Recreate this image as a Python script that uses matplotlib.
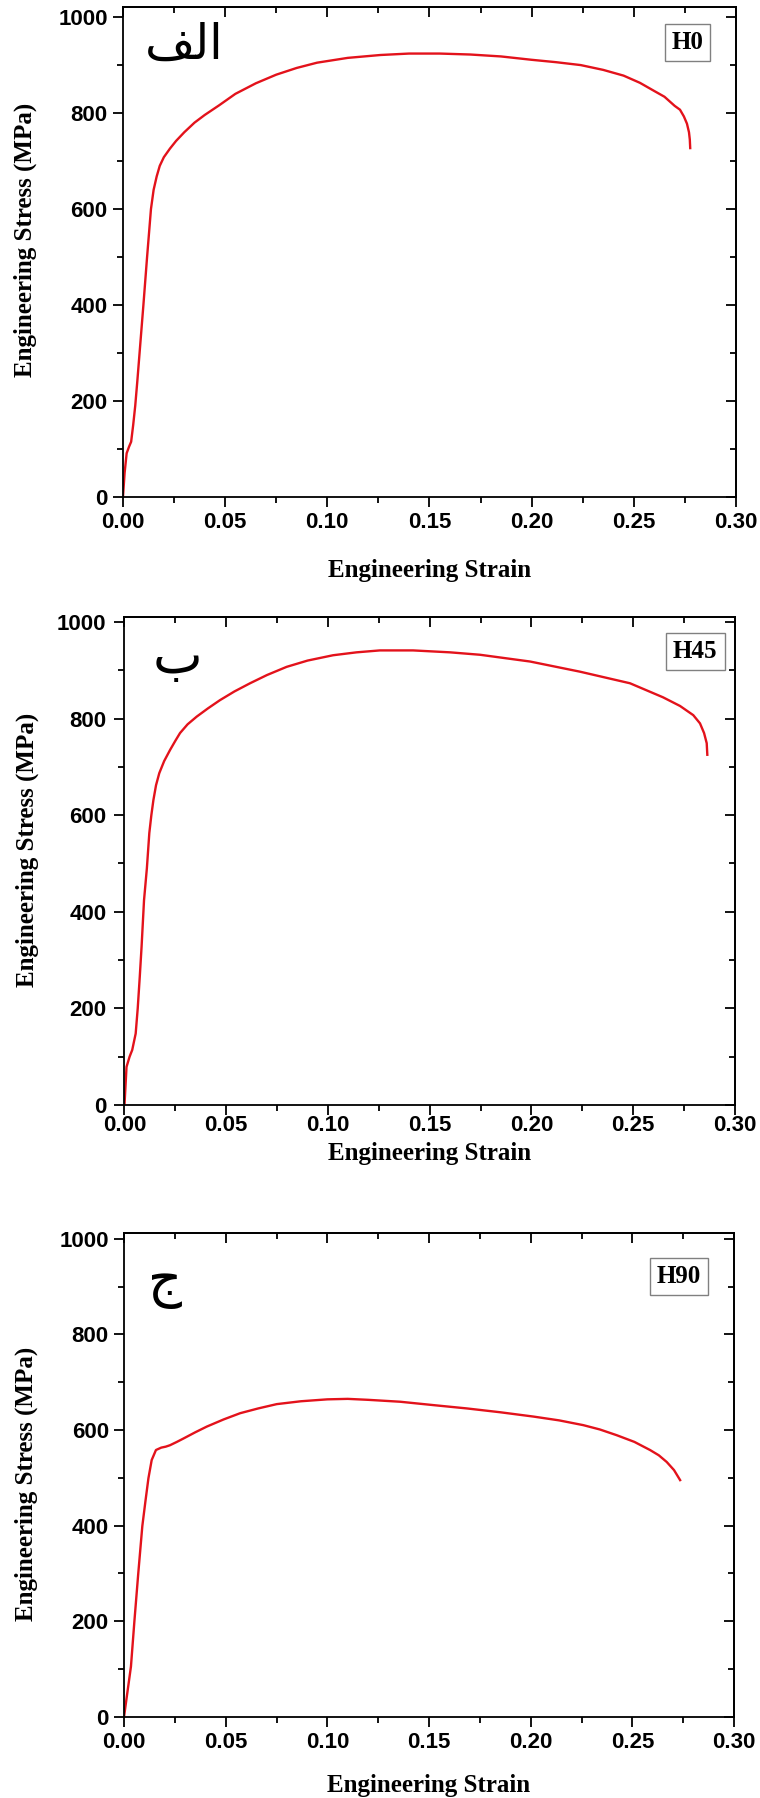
import numpy as np
import matplotlib.pyplot as plt
from matplotlib.ticker import MultipleLocator, FormatStrFormatter, NullFormatter

plt.rcParams['font.family'] = 'Liberation Sans'
plt.rcParams['font.weight'] = 'bold'

# values
h0_strain = [0, 0.0008, 0.0018, 0.0030, 0.0040, 0.0050, 0.0060, 0.0070, 0.0085, 0.0100,
             0.0118, 0.0137, 0.0150, 0.0165, 0.0180, 0.0200, 0.0230, 0.0260, 0.0300, 0.0350,
             0.0400, 0.0470, 0.0550, 0.0650, 0.0750, 0.0850, 0.0950, 0.1100, 0.1260, 0.1400,
             0.1550, 0.1700, 0.1850, 0.2000, 0.2120, 0.2240, 0.2350, 0.2450, 0.2530, 0.2600,
             0.2650, 0.2700, 0.2726, 0.2745, 0.2760, 0.2770, 0.2774, 0.2776]
h0_stress = [0, 50, 91, 105, 115, 150, 190, 240, 320, 400,
             500, 600, 640, 668, 690, 708, 726, 742, 760, 780,
             796, 816, 840, 862, 880, 894, 905, 915, 921, 924,
             924, 922, 918, 911, 906, 900, 890, 878, 863, 846,
             834, 815, 807, 793, 778, 760, 745, 727]

h45_strain = [0, 0.0010, 0.0025, 0.0038, 0.0055, 0.0065, 0.0075, 0.0084, 0.0096, 0.0110,
              0.0122, 0.0132, 0.0142, 0.0155, 0.0171, 0.0195, 0.0224, 0.0250, 0.0273, 0.0310,
              0.0355, 0.0410, 0.0469, 0.0540, 0.0617, 0.0700, 0.0797, 0.0900, 0.1025, 0.1140,
              0.1255, 0.1418, 0.1600, 0.1747, 0.1993, 0.2238, 0.2484, 0.2646, 0.2730, 0.2795,
              0.2828, 0.2848, 0.2861, 0.2864]
h45_stress = [0, 79, 100, 114, 148, 200, 265, 328, 424, 490,
              563, 600, 631, 662, 687, 712, 735, 754, 770, 788,
              804, 821, 838, 856, 873, 890, 907, 920, 931, 937,
              941, 941, 937, 932, 918, 897, 873, 844, 826, 807,
              790, 770, 749, 725]

h90_strain = [0, 0.0034, 0.0051, 0.0070, 0.0090, 0.0105, 0.0120, 0.0136, 0.0157, 0.0183,
              0.0205, 0.0226, 0.0260, 0.0292, 0.0350, 0.0407, 0.0490, 0.0571, 0.0660, 0.0751,
              0.0870, 0.1000, 0.1100, 0.1200, 0.1358, 0.1520, 0.1686, 0.1850, 0.2013, 0.2140,
              0.2259, 0.2340, 0.2423, 0.2510, 0.2587, 0.2630, 0.2669, 0.2705, 0.2735]
h90_stress = [0, 105, 200, 300, 399, 450, 499, 537, 558, 563,
              565, 568, 575, 582, 595, 607, 622, 635, 645, 654,
              660, 664, 665, 663, 659, 652, 645, 637, 628, 620,
              610, 601, 589, 575, 558, 547, 533, 516, 495]

panel_letters = ['\uFED2\uFEDF\uFE8D', '\u0628', '\u062C']   # الف  ب  ج
sample_names = ['H0', 'H45', 'H90']
x_label = 'Engineering Strain'
y_label = 'Engineering Stress (MPa)'

curves = [(h0_strain, h0_stress), (h45_strain, h45_stress), (h90_strain, h90_stress)]

# layout (figure fractions) and per-panel tweaks
rects = [[0.1618, 0.7236, 0.8066, 0.2725],
         [0.1638, 0.3854, 0.8033, 0.2714],
         [0.1632, 0.0452, 0.8026, 0.2693]]
ytops = [1021, 1010, 1013]
letter_pos = [(0.100, 0.923, 35), (0.087, 0.917, 38), (0.067, 0.895, 38)]
name_pos = [(0.921, 0.928), (0.935, 0.930), (0.910, 0.910)]
xlabel_y = [-0.150, -0.100, -0.143]
ylabel_y = [0.524, 0.523, 0.48]
xtick_pad = [4, 0, 4]
ytick_pad = [4, 6, 4]

RED = '#e3121b'
serif = dict(family='Liberation Serif', weight='bold')

fig = plt.figure(figsize=(7.6, 17.98), dpi=100)

for i, (xs, ys) in enumerate(curves):
    ax = fig.add_axes(rects[i])
    ax.plot(xs, ys, color=RED, lw=1.7)
    ax.set_xlim(0, 0.30)
    ax.set_ylim(0, ytops[i])

    ax.xaxis.set_major_locator(MultipleLocator(0.05))
    ax.xaxis.set_minor_locator(MultipleLocator(0.025))
    ax.xaxis.set_major_formatter(FormatStrFormatter('%.2f'))
    ax.yaxis.set_major_locator(MultipleLocator(200))
    ax.yaxis.set_minor_locator(MultipleLocator(100))
    ax.tick_params(which='both', direction='out', width=1.3, labelsize=16)
    ax.tick_params(axis='x', pad=xtick_pad[i])
    ax.tick_params(axis='y', pad=ytick_pad[i])
    ax.tick_params(which='major', length=7)
    ax.tick_params(which='minor', length=4)
    for sp in ax.spines.values():
        sp.set_linewidth(1.3)

    # inward ticks on top and right, no labels
    top = ax.secondary_xaxis('top')
    top.xaxis.set_major_locator(MultipleLocator(0.05))
    top.xaxis.set_minor_locator(MultipleLocator(0.025))
    top.xaxis.set_major_formatter(NullFormatter())
    top.tick_params(which='both', direction='in', width=1.3)
    top.tick_params(which='major', length=7)
    top.tick_params(which='minor', length=4)
    top.spines['top'].set_linewidth(1.3)
    right = ax.secondary_yaxis('right')
    right.yaxis.set_major_locator(MultipleLocator(200))
    right.yaxis.set_minor_locator(MultipleLocator(100))
    right.yaxis.set_major_formatter(NullFormatter())
    right.tick_params(which='both', direction='in', width=1.3)
    right.tick_params(which='major', length=7)
    right.tick_params(which='minor', length=4)
    right.spines['right'].set_linewidth(1.3)

    ax.set_xlabel(x_label, fontsize=18, va='center', **serif)
    ax.xaxis.set_label_coords(0.5, xlabel_y[i])
    ax.set_ylabel(y_label, fontsize=18, va='center', **serif)
    ax.yaxis.set_label_coords(-0.160, ylabel_y[i])

    lx, ly, fs = letter_pos[i]
    ax.text(lx, ly, panel_letters[i], transform=ax.transAxes, fontsize=fs,
            family='DejaVu Sans', weight='normal', ha='center', va='center')
    nx, ny = name_pos[i]
    ax.text(nx, ny, sample_names[i], transform=ax.transAxes, fontsize=18,
            ha='center', va='center', **serif,
            bbox=dict(boxstyle='square,pad=0.28', fc='white', ec='#808080', lw=1.0))

fig.savefig('out.png', dpi=100)
